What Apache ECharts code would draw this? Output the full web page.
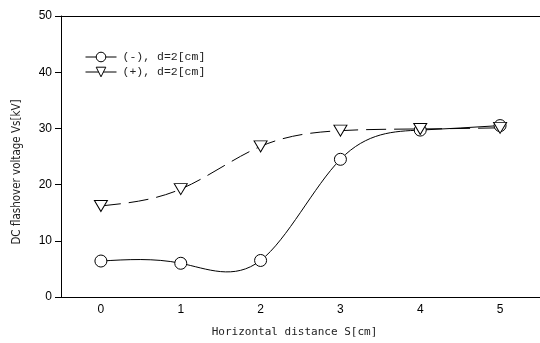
<!DOCTYPE html>
<html lang="en">
<head>
    <meta charset="UTF-8">
    <script type="text/javascript" src="https://cdn.jsdelivr.net/npm/echarts@6/dist/echarts.min.js"></script>
    <style>
        html, body { margin: 0; padding: 0; background: #fff; }
    </style>
</head>
<body>
    <div id="flashoverChart" style="width: 540px;height: 343px;"></div>
</body>

<script>
    // 水平距离 S[cm]
    var distanceList = ['0', '1', '2', '3', '4', '5'];
    // (-) 极性
    var negativeVoltage = [6.4, 6.0, 6.5, 24.5, 29.7, 30.5];
    // (+) 极性
    var positiveVoltage = [16.2, 19.2, 26.8, 29.6, 29.9, 30.1];
    var yTickList = [0, 10, 20, 30, 40, 50];

    var flashoverChart = echarts.init(document.getElementById("flashoverChart"));

    var tickFont = {fontFamily: 'Liberation Sans', fontSize: 12, color: '#000'};

    //自然三次样条 -> SVG path (points 为像素坐标, x 等间距)
    function splinePath(points) {
        var n = points.length;
        var M = [];
        for (var i = 0; i < n; i++) M.push(0);
        var c = [], d = [];
        for (var k = 0; k < n - 2; k++) {
            var rhs = 6 * (points[k + 2][1] - 2 * points[k + 1][1] + points[k][1]);
            if (k === 0) { c[k] = 1 / 4; d[k] = rhs / 4; }
            else { var m = 4 - c[k - 1]; c[k] = 1 / m; d[k] = (rhs - d[k - 1]) / m; }
        }
        for (var k = n - 3; k >= 0; k--) {
            M[k + 1] = d[k] - c[k] * M[k + 2];
        }
        var path = 'M' + points[0][0] + ' ' + points[0][1];
        for (var i = 0; i < n - 1; i++) {
            var p0 = points[i], p1 = points[i + 1];
            var dx = p1[0] - p0[0], dy = p1[1] - p0[1];
            var d0 = dy - (2 * M[i] + M[i + 1]) / 6;
            var d1 = dy + (M[i] + 2 * M[i + 1]) / 6;
            path += ' C' + (p0[0] + dx / 3) + ' ' + (p0[1] + d0 / 3) + ' '
                + (p1[0] - dx / 3) + ' ' + (p1[1] - d1 / 3) + ' '
                + p1[0] + ' ' + p1[1];
        }
        return path;
    }

    function curveSeries(name, values, dash) {
        return {
            name: name,
            type: 'custom',
            coordinateSystem: 'cartesian2d',
            silent: true,
            z: 1,
            data: [[0, values[0]]],
            renderItem: function (params, api) {
                var pts = values.map(function (v, i) { return api.coord([i, v]); });
                return {
                    type: 'path',
                    shape: {pathData: splinePath(pts)},
                    style: {fill: 'none', stroke: '#000', lineWidth: 1, lineDash: dash}
                };
            }
        };
    }

    function markerSeries(name, values, symbol, size, rotate) {
        return {
            name: name,
            type: 'line',
            data: values,
            z: 3,
            symbol: symbol,
            symbolSize: size,
            symbolRotate: rotate,
            lineStyle: {opacity: 0},
            itemStyle: {color: '#fff', borderColor: '#000', borderWidth: 1}
        };
    }

    var option = {
        animation: false,
        grid: {left: 61, top: 16, right: 0, bottom: 44},
        legend: {
            orient: 'vertical',
            left: 85, top: 51,
            padding: 0,
            itemWidth: 31, itemHeight: 12, itemGap: 3,
            textStyle: {fontFamily: 'Liberation Mono', fontSize: 11.5, color: '#222', padding: [0, 0, 0, 1]},
            lineStyle: {type: 'solid', width: 1, opacity: 1, color: '#000'},
            itemStyle: {borderWidth: 1, borderColor: '#000', color: '#fff'},
            data: ['(-), d=2[cm]', '(+), d=2[cm]']
        },
        xAxis: [{
            type: 'category',
            data: distanceList,
            boundaryGap: true,
            name: 'Horizontal distance S[cm]',
            nameLocation: 'middle',
            nameGap: 30,
            nameTextStyle: {fontFamily: 'DejaVu Sans Mono', fontSize: 11, color: '#222', padding: [0, 12, 0, 0]},
            axisLine: {lineStyle: {color: '#000', width: 1}},
            axisTick: {inside: true, alignWithLabel: true, length: 6, lineStyle: {color: '#000'}},
            axisLabel: Object.assign({margin: 7}, tickFont),
            splitLine: {show: false}
        }, {
            type: 'category',
            data: distanceList,
            position: 'top',
            axisLine: {lineStyle: {color: '#000', width: 1}},
            axisTick: {show: false},
            axisLabel: {show: false},
            splitLine: {show: false}
        }],
        yAxis: {
            type: 'value',
            min: yTickList[0],
            max: yTickList[yTickList.length - 1],
            interval: 10,
            name: 'DC flashover voltage Vs[kV]',
            nameLocation: 'middle',
            nameRotate: 90,
            nameGap: 38,
            nameTextStyle: {fontFamily: 'DejaVu Sans Condensed', fontSize: 11.5, color: '#222', padding: [0, 31, 0, 0]},
            axisLine: {show: true, lineStyle: {color: '#000', width: 1}},
            axisTick: {show: true, inside: false, length: 6, lineStyle: {color: '#000'}},
            axisLabel: Object.assign({margin: 9}, tickFont),
            splitLine: {show: false}
        },
        series: [
            curveSeries('negCurve', negativeVoltage, null),
            curveSeries('posCurve', positiveVoltage, [20, 8]),
            markerSeries('(-), d=2[cm]', negativeVoltage, 'circle', 12, 0),
            markerSeries('(+), d=2[cm]', positiveVoltage, 'triangle', [13, 11], 180)
        ]
    };
    flashoverChart.setOption(option);
</script>
</html>
